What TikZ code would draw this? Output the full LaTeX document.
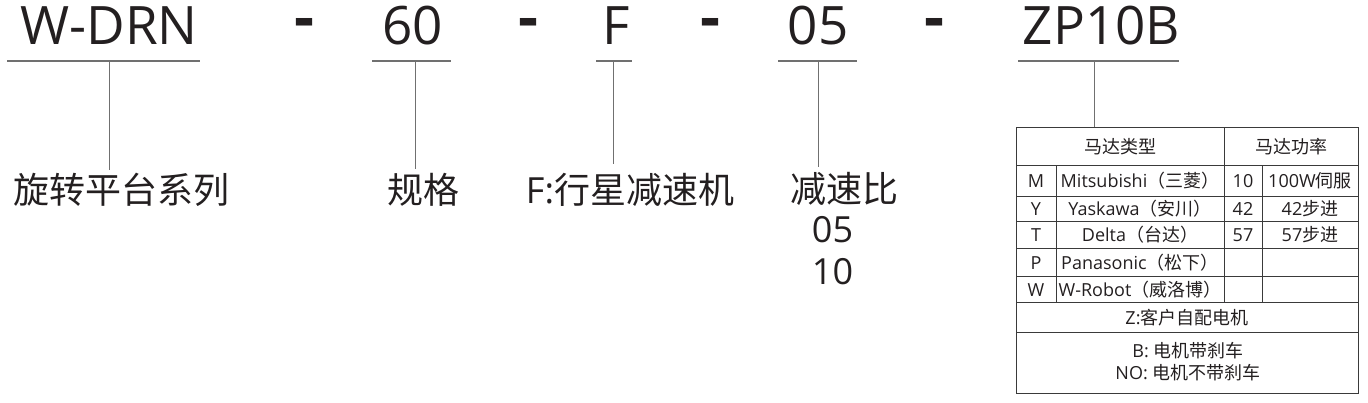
\documentclass[tikz,border=0pt]{standalone}
\usepackage{fontspec}
\setmainfont{Open Sans}
\newfontfamily\cjk{Noto Sans CJK SC}
\newfontfamily\dashfont{DejaVu Sans}
\definecolor{ink}{HTML}{231F20}
\definecolor{rulec}{HTML}{707070}
\definecolor{gridc}{HTML}{3A3A3A}
\begin{document}
\begin{tikzpicture}[x=1pt,y=-1pt,
  code/.style={anchor=base,inner sep=0pt,text=ink,font=\fontsize{53}{60}\selectfont},
  sepch/.style={anchor=base,inner sep=0pt,text=ink,font=\dashfont\fontsize{53}{60}\selectfont\bfseries},
  lab/.style={anchor=base,inner sep=0pt,text=ink,font=\fontsize{36}{42}\selectfont},
  cell/.style={anchor=base,inner sep=0pt,text=ink,font=\fontsize{18}{22}\selectfont},
  uline/.style={draw=rulec,line width=1.2pt},
  vline/.style={draw=rulec,line width=0.9pt},
  gridl/.style={draw=gridc,line width=1pt}]
\useasboundingbox (0,0) rectangle (1368,403);

% codes
\node[code] (c1) at (109,45) {W-DRN};
\node[code] (c2) at (412.5,45) {60};
\node[code] (c3) at (616.5,45) {F};
\node[code] (c4) at (818,45) {05};
\node[code] (c5) at (1101.5,45) {ZP10B};
\node[sepch] (s1) at (304,38) {-};
\node[sepch] (s2) at (528,38) {-};
\node[sepch] (s3) at (710.5,38) {-};
\node[sepch] (s4) at (934.5,38) {-};

% underlines
\coordinate (u1l) at (7,61);    \coordinate (u1r) at (200,61);
\coordinate (u2l) at (372,61);  \coordinate (u2r) at (451,61);
\coordinate (u3l) at (596,61);  \coordinate (u3r) at (632,61);
\coordinate (u4l) at (778,61);  \coordinate (u4r) at (857,61);
\coordinate (u5l) at (1018,61); \coordinate (u5r) at (1179,61);
\draw[uline] (u1l) -- (u1r);
\draw[uline] (u2l) -- (u2r);
\draw[uline] (u3l) -- (u3r);
\draw[uline] (u4l) -- (u4r);
\draw[uline] (u5l) -- (u5r);

% labels
\node[lab] (l1) at (121.5,204) {\cjk 旋转平台系列};
\node[lab] (l2) at (423,204) {\cjk 规格};
\node[lab] (l3) at (630,204) {F:{\cjk 行星减速机}};
\node[lab] (l4) at (844,203) {\cjk 减速比};
\node[lab] (l5) at (832.5,243) {05};
\node[lab] (l6) at (832.5,285) {10};

% verticals
\coordinate (v1a) at (109,61);  \coordinate (v1b) at (109,170);
\coordinate (v2a) at (415,61);  \coordinate (v2b) at (415,169);
\coordinate (v3a) at (613,61);  \coordinate (v3b) at (613,164);
\coordinate (v4a) at (818,61);  \coordinate (v4b) at (818,167);
\coordinate (v5a) at (1094,61); \coordinate (v5b) at (1094,128);
\draw[vline] (v1a) -- (v1b);
\draw[vline] (v2a) -- (v2b);
\draw[vline] (v3a) -- (v3b);
\draw[vline] (v4a) -- (v4b);
\draw[vline] (v5a) -- (v5b);

% table
\draw[gridl] (1016,128) rectangle (1358,393);
\foreach \yy in {166,197,222,249,277,303,332}
  \draw[gridl] (1016,\yy) -- (1358,\yy);
\draw[gridl] (1224,128) -- (1224,303);
\draw[gridl] (1056,166) -- (1056,303);
\draw[gridl] (1262,166) -- (1262,303);

\node[cell] (h1) at (1120,153.5) {\cjk 马达类型};
\node[cell] (h2) at (1291,153.5) {\cjk 马达功率};

\node[cell] (m1) at (1036,188) {M};
\node[cell] (m2) at (1140,188) {Mitsubishi{\cjk （三菱）}};
\node[cell] (m3) at (1243,188) {10};
\node[cell] (m4) at (1310,188) {100W{\cjk 伺服}};

\node[cell] (y1) at (1036,216) {Y};
\node[cell] (y2) at (1140,216) {Yaskawa{\cjk （安川）}};
\node[cell] (y3) at (1243,216) {42};
\node[cell] (y4) at (1310,216) {42{\cjk 步进}};

\node[cell] (t1) at (1036,242) {T};
\node[cell] (t2) at (1140,242) {Delta{\cjk （台达）}};
\node[cell] (t3) at (1243,242) {57};
\node[cell] (t4) at (1310,242) {57{\cjk 步进}};

\node[cell] (p1) at (1036,269.5) {P};
\node[cell] (p2) at (1140,269.5) {Panasonic{\cjk （松下）}};

\node[cell] (w1) at (1036,296.5) {W};
\node[cell] (w2) at (1140,296.5) {W-Robot{\cjk （威洛博）}};

\node[cell] (z1) at (1187,324) {Z:{\cjk 客户自配电机}};
\node[cell] (b1) at (1188,357.5) {B: {\cjk 电机带刹车}};
\node[cell] (b2) at (1188,379.5) {NO: {\cjk 电机不带刹车}};
\end{tikzpicture}
\end{document}
